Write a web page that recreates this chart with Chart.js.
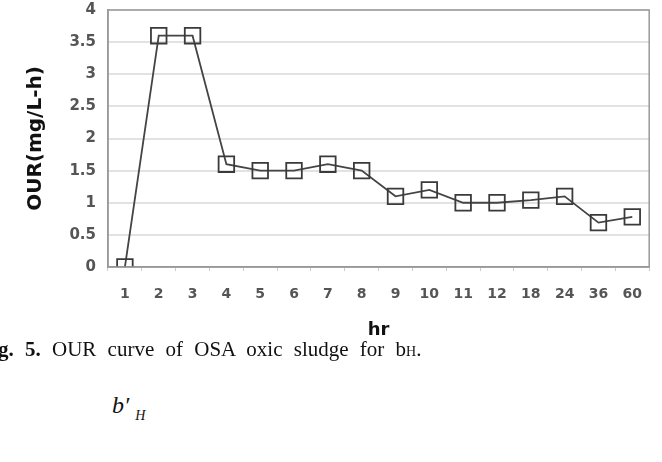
<!DOCTYPE html>
<html>
<head>
<meta charset="utf-8">
<script src="https://cdn.jsdelivr.net/npm/chart.js@4.4.1/dist/chart.umd.min.js"></script>
<style>
  body { margin: 0; background: #fff; }
  #wrap { position: relative; width: 662px; height: 462px; overflow: hidden; }
  #box { position: absolute; left: 0; top: -11px; width: 662px; height: 356px; }
  .cap { position: absolute; font-family: "Liberation Serif", "DejaVu Serif", serif; color: #111; white-space: nowrap; }
</style>
</head>
<body>
<div id="wrap">
  <div id="box"><canvas id="myChart"></canvas></div>
  <div class="cap" style="left:-2px; top:337px; font-size:21px; word-spacing:6px;"><b>g. 5.</b> OUR curve of OSA oxic sludge for b<span style="font-size:14px">H</span>.</div>
  <div class="cap" style="left:112px; top:392px; font-size:24px; font-style:italic;">b&prime;<span style="font-size:14px; margin-left:6px; position:relative; top:7px;">H</span></div>
</div>
<script>
var hours = ['1', '2', '3', '4', '5', '6', '7', '8', '9', '10', '11', '12', '18', '24', '36', '60'];
var ourValues = [0, 3.6, 3.6, 1.6, 1.5, 1.5, 1.6, 1.5, 1.1, 1.2, 1.0, 1.0, 1.04, 1.1, 0.69, 0.78];
var yTicks = [0, 0.5, 1, 1.5, 2, 2.5, 3, 3.5, 4];

var ctx = document.getElementById('myChart');
var myChart = new Chart(ctx, {
    type: 'line',
    data: {
        labels: hours,
        datasets: [
          {
            label: 'OUR',
            data: ourValues,
            borderColor: '#444',
            borderWidth: 1.8,
            pointStyle: 'rect',
            pointRadius: 11,
            pointBorderColor: '#3a3a3a',
            pointBorderWidth: 1.8,
            pointBackgroundColor: 'rgba(255,255,255,0)',
            tension: 0
          }
        ]
    },
    options: {
        responsive: true,
        maintainAspectRatio: false,
        animation: false,
        layout: { padding: { top: 0, right: 8, left: 20, bottom: 0 } },
        plugins: { legend: { display: false }, tooltip: { enabled: false } },
        scales: {
            x: {
                offset: true,
                border: { color: '#999', width: 1.5 },
                grid: { display: true, drawOnChartArea: false, offset: true, color: '#ccc', tickLength: 4 },
                ticks: { color: '#555', font: { family: 'DejaVu Sans', size: 14, weight: 'bold' }, padding: 15 },
                title: { display: true, text: 'hr', color: '#111', font: { family: 'DejaVu Sans', size: 18, weight: 'bold' }, padding: { top: 10 } },
                afterFit: function (s) { s.height = 78; }
            },
            y: {
                min: 0,
                max: 4,
                afterBuildTicks: function (s) { s.ticks = yTicks.map(function (v) { return { value: v }; }); },
                border: { color: '#999', width: 1.5 },
                grid: { color: '#e2e2e2', lineWidth: 2, drawTicks: false },
                ticks: {
                    color: '#555',
                    font: { family: 'DejaVu Sans', size: 15, weight: 'bold' },
                    padding: 12,
                    callback: function (v) { return String(v); }
                },
                title: { display: true, text: 'OUR(mg/L-h)', color: '#111', font: { family: 'DejaVu Sans', size: 20, weight: 'bold' }, padding: { bottom: 10 } },
                afterFit: function (s) { s.width = 88; }
            }
        }
    },
    plugins: [{
        id: 'frame',
        afterDraw: function (c) {
            var a = c.chartArea, g = c.ctx;
            g.save();
            g.strokeStyle = '#999';
            g.lineWidth = 1.5;
            g.strokeRect(a.left, a.top, a.right - a.left, a.bottom - a.top);
            g.restore();
        }
    }]
});
</script>
</body>
</html>
